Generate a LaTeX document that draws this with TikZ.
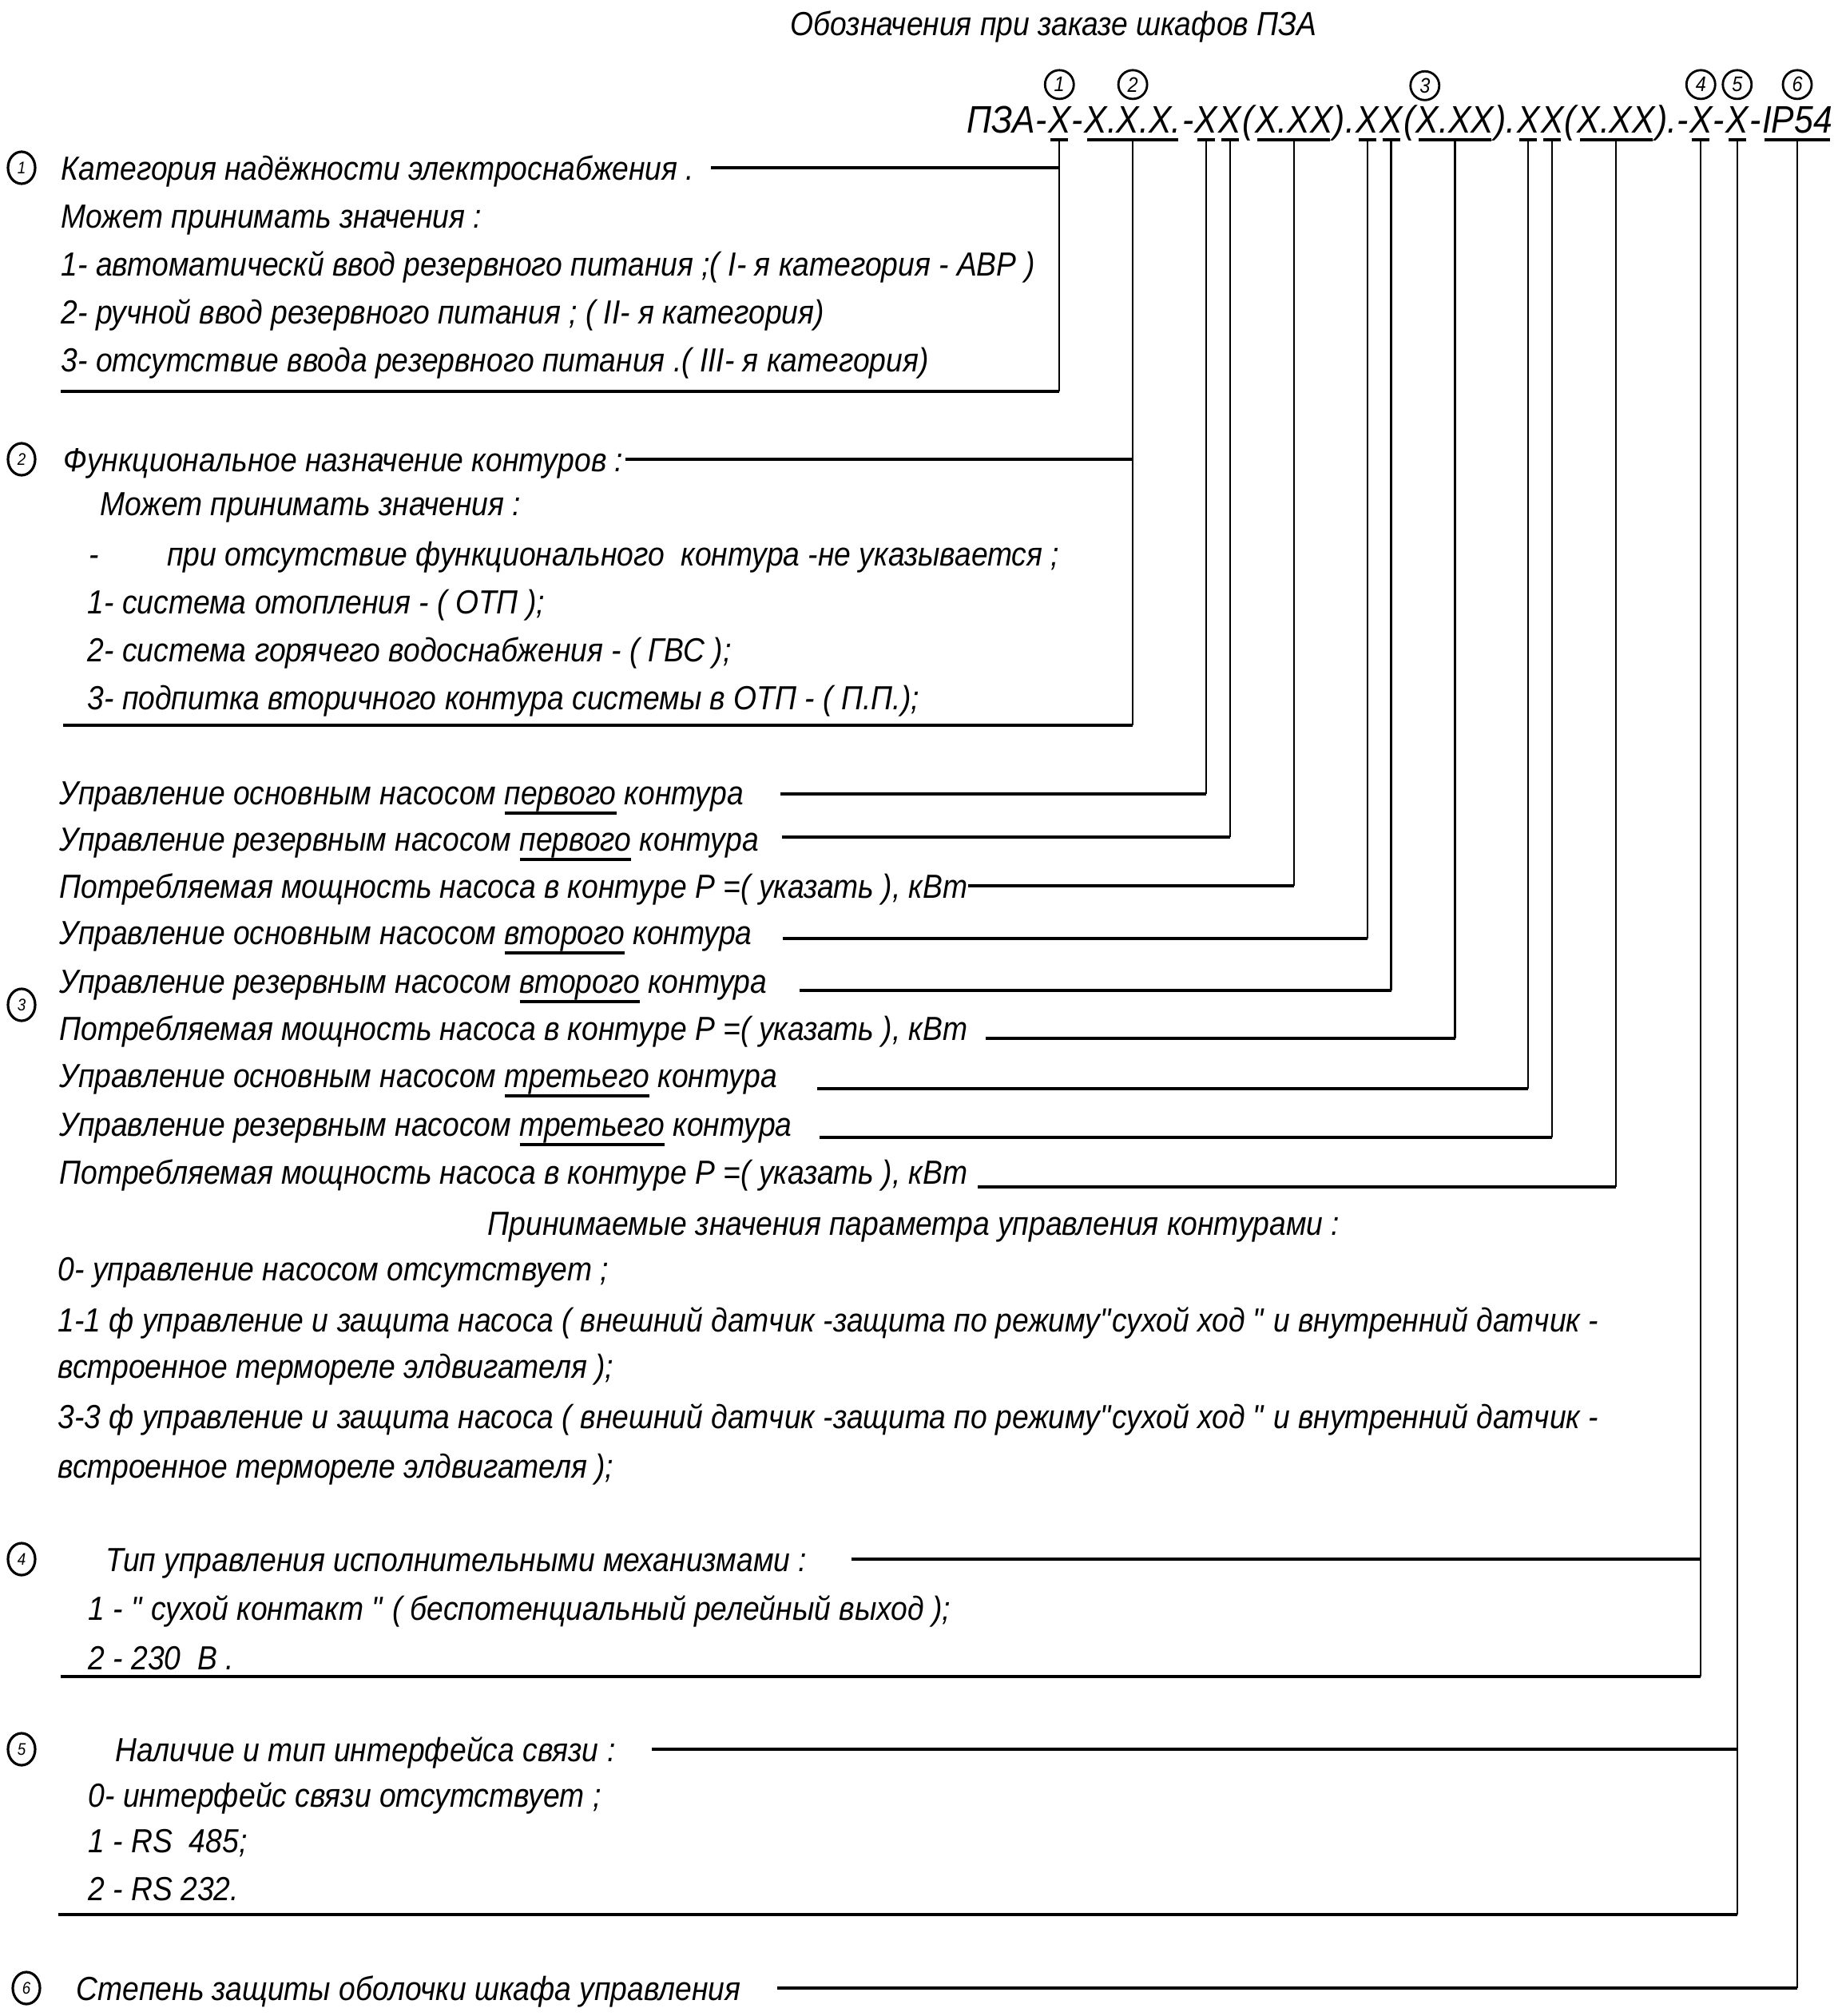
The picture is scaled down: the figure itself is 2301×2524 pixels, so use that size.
\documentclass[tikz,border=0pt]{standalone}
\usepackage{fontspec}
\setmainfont{Liberation Sans}[FakeStretch=0.89]
\usetikzlibrary{positioning,calc,shapes.geometric}

% underlined word inside a text line
\newcommand\ulword[1]{\setbox0=\hbox{#1}\rlap{\rule[-0.13cm]{\wd0}{0.04cm}}\box0\relax}

\tikzset{
  txt/.style     = {inner sep=0pt, anchor=west, text height=0.30cm, text depth=0pt,
                    font=\fontsize{11.9}{14}\selectfont\itshape},
  codetxt/.style = {inner sep=0pt, anchor=base west, font=\fontsize{13.65}{16}\selectfont\itshape},
  codeul/.style  = {line width=1.15pt, shorten <=0.04cm, shorten >=0.04cm},
  lead/.style    = {line width=1.15pt},
  stem/.style    = {line width=0.6pt},
  topnum/.style  = {circle, draw, line width=0.8pt, minimum size=0.36cm, inner sep=0pt,
                    font=\fontsize{7.5}{7.5}\selectfont\itshape},
  sidenum/.style = {ellipse, draw, line width=0.9pt, minimum width=0.34cm, minimum height=0.4cm,
                    inner sep=0pt, font=\fontsize{6}{6}\selectfont\itshape},
}

\begin{document}
\begin{tikzpicture}[x=0.01cm, y=-0.01cm]
\useasboundingbox (0,0) rectangle (2301,2524);

% Title
\node[txt, anchor=center] (title) at (1319,29) {Обозначения при заказе шкафов ПЗА};

% Order code, built piece by piece
\node[codetxt] (p0) at (1210,166) {ПЗА-};
\foreach \nm/\txt [remember=\nm as \lst (initially p0)] in
  {k1/X, p1/-, k2/X.X.X., p2/-, k3/X, k4/X, p3/(, k5/X.XX, p4/)., k6/X, k7/X, p5/(, k8/X.XX,
   p6/)., k9/X, k10/X, p7/(, k11/X.XX, p8/).-, k12/X, p9/-, k13/X, p10/-, k14/IP54}
  \node[codetxt] (\nm) at (\lst.base east) {\txt};

% Underlines and stem tips
\foreach \k in {k1,k2,k3,k4,k5,k6,k7,k8,k9,k10,k11,k12,k13,k14} {
  \draw[codeul] ([yshift=-0.09cm]\k.base west) -- ([yshift=-0.09cm]\k.base east);
  \coordinate (t\k) at ([yshift=-0.09cm]\k.base);
}

% Circled numbers over the code
\node[topnum, above=0.07cm of k1]  (n1) {1};
\node[topnum, above=0.07cm of k2]  (n2) {2};
\node[topnum] (n3) at ($(k3.north west)!0.5!(k11.north east)+(0,-25)$) {3};
\node[topnum, above=0.07cm of k12] (n4) {4};
\node[topnum, above=0.07cm of k13] (n5) {5};
\node[topnum, above=0.07cm of k14] (n6) {6};

% 1 - reliability category
\node[sidenum] (c1) at (27,210) {1};
\node[txt] (h1) at (76,210) {Категория надёжности электроснабжения .};
\foreach \i/\y/\txt in {a/270/{Может принимать значения :},
    b/330/{1- автоматическй ввод резервного питания ;( I- я категория - АВР )},
    c/390/{2- ручной ввод резервного питания ; ( II- я категория)},
    d/450/{3- отсутствие ввода резервного питания .( III- я категория)}}
  \node[txt] (h1\i) at (76,\y) {\txt};
\coordinate (l1) at ([xshift=0.2cm]h1.east);
\coordinate (b1) at (76,490);

% 2 - function of the circuits
\node[sidenum] (c2) at (27,575) {2};
\node[txt] (h2) at (79,575) {Функциональное назначение контуров :};
\node[txt] (h2a) at (125,630) {Может принимать значения :};
\node[txt] (h2b) at (111,693) {-\hspace{0.85cm}при отсутствие функционального \ контура -не указывается ;};
\foreach \i/\y/\txt in {c/753/{1- система отопления - ( ОТП );},
    d/813/{2- система горячего водоснабжения - ( ГВС );},
    e/873/{3- подпитка вторичного контура системы в ОТП - ( П.П.);}}
  \node[txt] (h2\i) at (109,\y) {\txt};
\coordinate (l2) at ([xshift=0.02cm]h2.east);
\coordinate (b2) at (79,908);

% 3 - pump control
\node[sidenum] (c3) at (27,1258) {3};
\foreach \i/\y/\txt in {1/992/{Управление основным насосом \ulword{первого} контура},
    2/1050/{Управление резервным насосом \ulword{первого} контура},
    3/1109/{Потребляемая мощность насоса в контуре P =( указать ), кВт},
    4/1167/{Управление основным насосом \ulword{второго} контура},
    5/1228/{Управление резервным насосом \ulword{второго} контура},
    6/1287/{Потребляемая мощность насоса в контуре P =( указать ), кВт},
    7/1346/{Управление основным насосом \ulword{третьего} контура},
    8/1407/{Управление резервным насосом \ulword{третьего} контура},
    9/1467/{Потребляемая мощность насоса в контуре P =( указать ), кВт}}
  \node[txt] (q\i) at (74,\y) {\txt};
\coordinate (l3) at ([xshift=0.45cm,yshift=-0.02cm]q1.east);
\coordinate (l4) at ([xshift=0.28cm,yshift=0.02cm]q2.east);
\coordinate (l5) at (q3.east);
\coordinate (l6) at ([xshift=0.38cm,yshift=-0.08cm]q4.east);
\coordinate (l7) at ([xshift=0.4cm,yshift=-0.12cm]q5.east);
\coordinate (l8) at ([xshift=0.22cm,yshift=-0.13cm]q6.east);
\coordinate (l9) at ([xshift=0.5cm,yshift=-0.17cm]q7.east);
\coordinate (l10) at ([xshift=0.34cm,yshift=-0.17cm]q8.east);
\coordinate (l11) at ([xshift=0.12cm,yshift=-0.19cm]q9.east);

\node[txt, anchor=center] (vals) at (1144,1531) {Принимаемые значения параметра управления контурами :};
\foreach \i/\y/\txt in {a/1588/{0- управление насосом отсутствует ;},
    b/1652/{1-1 ф управление и защита насоса ( внешний датчик -защита по режиму\textquotedbl сухой ход \textquotedbl\ и внутренний датчик -},
    c/1710/{встроенное термореле элдвигателя );},
    d/1773/{3-3 ф управление и защита насоса ( внешний датчик -защита по режиму\textquotedbl сухой ход \textquotedbl\ и внутренний датчик -},
    e/1835/{встроенное термореле элдвигателя );}}
  \node[txt] (v\i) at (72,\y) {\txt};

% 4 - actuator control
\node[sidenum] (c4) at (27,1952) {4};
\node[txt] (h4) at (132,1952) {Тип управления исполнительными механизмами :};
\node[txt] (h4a) at (110,2013) {1 - \textquotedbl\ сухой контакт \textquotedbl\ ( беспотенциальный релейный выход );};
\node[txt] (h4b) at (110,2075) {2 - 230 \ В .};
\coordinate (l12) at ([xshift=0.55cm]h4.east);
\coordinate (b12) at (76,2099);

% 5 - interface
\node[sidenum] (c5) at (27,2190) {5};
\node[txt] (h5) at (144,2190) {Наличие и тип интерфейса связи :};
\foreach \i/\y/\txt in {a/2247/{0- интерфейс связи отсутствует ;},
    b/2304/{1 - RS \ 485;}, c/2364/{2 - RS 232.}}
  \node[txt] (h5\i) at (110,\y) {\txt};
\coordinate (l13) at ([xshift=0.45cm]h5.east);
\coordinate (b13) at (73,2397);

% 6 - enclosure protection
\node[sidenum] (c6) at (33,2489) {6};
\node[txt] (h6) at (95,2489) {Степень защиты оболочки шкафа управления};
\coordinate (l14) at ([xshift=0.45cm]h6.east);

% Stems down from the code
\foreach \k/\e in {k1/b1, k2/b2, k3/l3, k4/l4, k5/l5, k6/l6, k7/l7, k8/l8, k9/l9, k10/l10,
                   k11/l11, k12/b12, k13/b13, k14/l14}
  \draw[stem] (t\k) -- (t\k |- \e);
% Leaders
\foreach \k/\l in {k1/l1, k2/l2, k3/l3, k4/l4, k5/l5, k6/l6, k7/l7, k8/l8, k9/l9, k10/l10,
                   k11/l11, k12/l12, k13/l13, k14/l14}
  \draw[lead] (\l) -- (t\k |- \l);
% Closing lines under the lists
\foreach \k/\b in {k1/b1, k2/b2, k12/b12, k13/b13}
  \draw[lead] (\b) -- (t\k |- \b);
\end{tikzpicture}
\end{document}
